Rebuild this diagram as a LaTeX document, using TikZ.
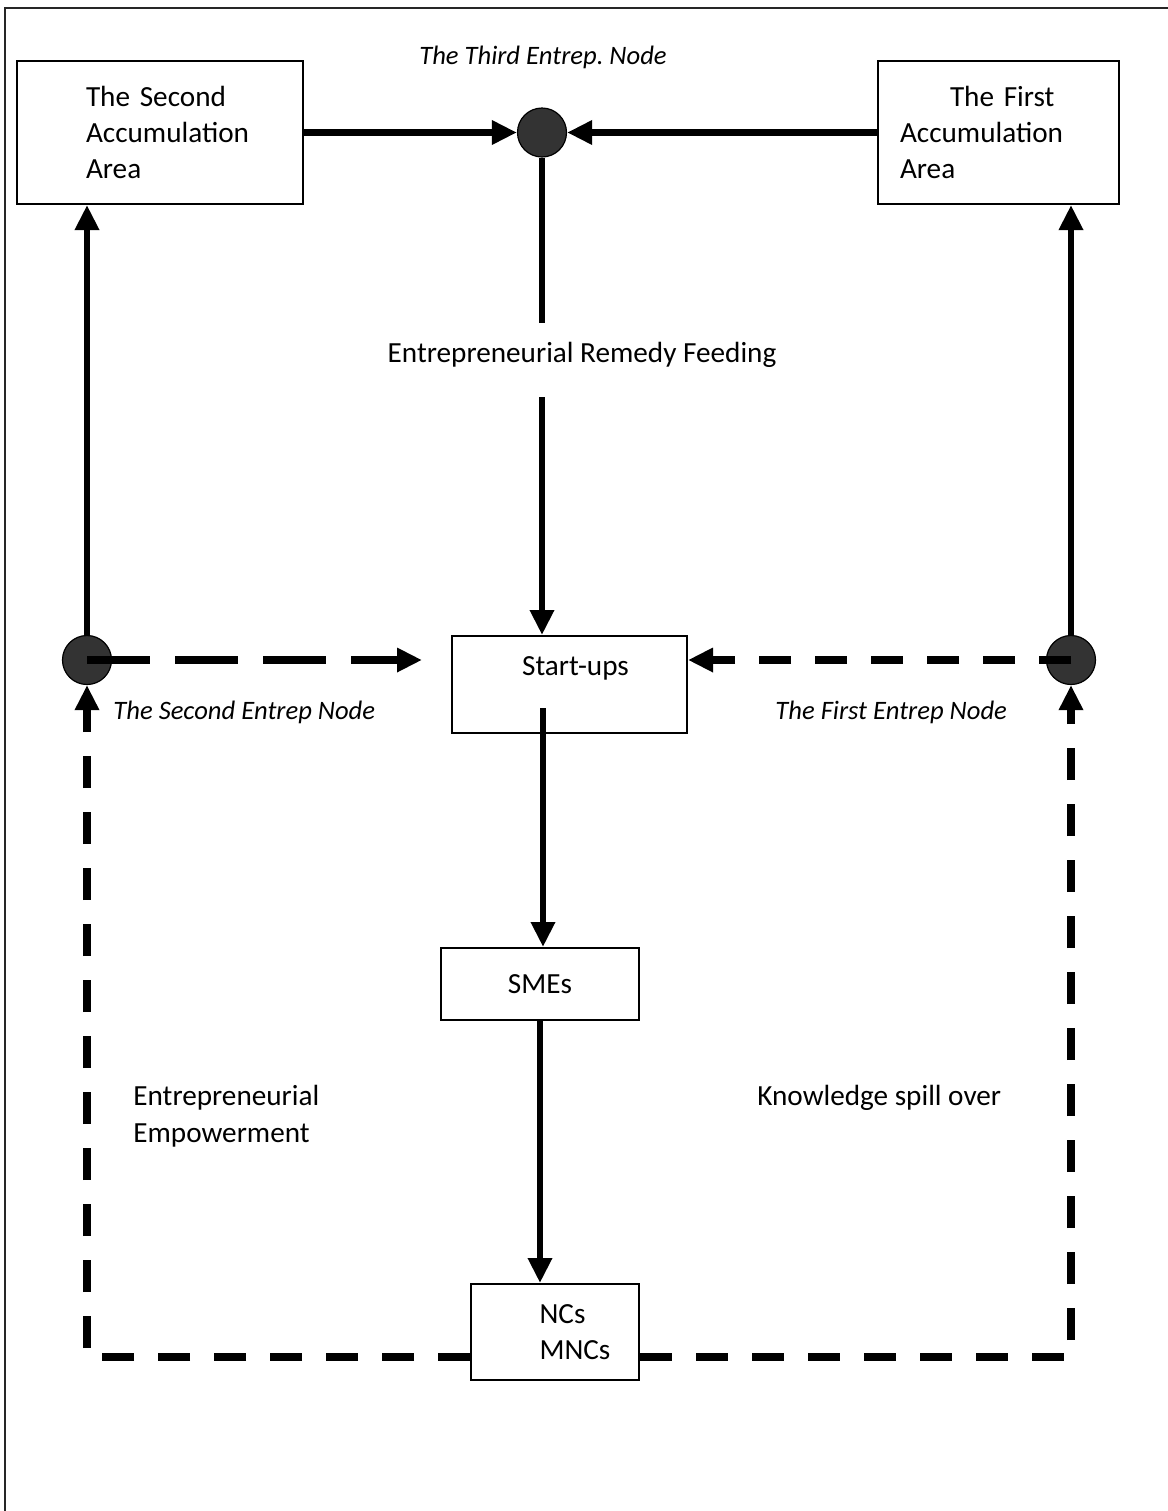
\documentclass[tikz,border=0pt]{standalone}
\usepackage{fontspec}
\setmainfont{Carlito}
\usetikzlibrary{arrows.meta}
\definecolor{dotgray}{HTML}{333333}
\def\txtsize{\fontsize{14.6}{18.2}\selectfont}
\def\tagsize{\fontsize{13.3}{16}\selectfont}
\frenchspacing
\tikzset{
	box/.style={draw, line width=1pt, inner sep=0pt, align=center},
	dot/.style={circle, draw, line width=0.6pt, fill=dotgray, minimum size=24.5pt, inner sep=0pt},
	txt/.style={inner sep=0pt, font=\txtsize},
	tag/.style={inner sep=0pt, font=\tagsize\itshape},
	flowline/.style={line width=3.3pt},
	flow/.style={line width=3.3pt, -{Triangle[length=12.5pt,width=11.5pt]}},
	longdash/.style={line width=3.6pt, dash pattern=on 31.5pt off 12.5pt},
	shortdash/.style={line width=3.6pt, dash pattern=on 16pt off 12pt}
}
\begin{document}
\begin{tikzpicture}[x=0.5pt, y=-0.5pt, font=\txtsize]
			%%%%% START %%%%%
			
			\useasboundingbox (0,0) rectangle (1168,1511);
			\draw[line width=1pt, black!85] (5,1511) -- (5,8) -- (1168,8);
			
			\node[box, minimum width=143pt, minimum height=71.5pt, text width=74pt, inner xsep=34.5pt, align=left] (accsecond) at (160,132.5) {The Second\\Accumulation\\Area};
			\node[box, minimum width=120.5pt, minimum height=71.5pt, text width=98.5pt, inner xsep=11pt, align=left] (accfirst) at (998.5,132.5) {\hspace*{25pt}The First\\Accumulation\\Area};
			
			\node[dot] (entthird) at (542,132.5) {};
			\node[tag] (thirdtag) at (543,57) {The Third Entrep. Node};
			
			\coordinate (feedtop) at (542,323);
			\coordinate (feedbot) at (542,397);
			\node[txt] (feedtag) at (582,355) {Entrepreneurial Remedy Feeding};
			
			\node[box, minimum width=117.5pt, minimum height=48.5pt] (startups) at (569.5,684.5) {\hspace*{6pt}Start-ups\\\mbox{}};
			\node[box, minimum width=99pt, minimum height=36pt] (smes) at (540,984) {SMEs};
			\node[box, minimum width=84pt, minimum height=48pt, align=left] (ncs) at (555,1332) {\hspace*{20pt}NCs\\\hspace*{20pt}MNCs};
			
			\node[dot] (entsecond) at (87,660) {};
			\node[dot] (entfirst) at (1071,660) {};
			\node[tag, anchor=west] (secondtag) at (113,712) {The Second Entrep Node};
			\node[tag, anchor=west] (firsttag) at (775,712) {The First Entrep Node};
			
			\node[txt, anchor=west, align=left] (empower) at (133,1116) {Entrepreneurial\\Empowerment};
			\node[txt, anchor=west] (spill) at (757,1098) {Knowledge spill over};
			
			\coordinate (upsleft) at (422,660);
			\coordinate (startout) at (543,708);
			\coordinate (loop) at (0,1357);
			
			% solid flows
			\draw[flow] (accsecond) -- (entthird);
			\draw[flow] (accfirst) -- (entthird);
			\draw[flowline] (entthird) -- (feedtop);
			\draw[flow] (feedbot) -- (feedbot |- startups.north);
			\draw[flow] (startout) -- (startout |- smes.north);
			\draw[flow] (smes.south) -- (smes.south |- ncs.north);
			\draw[flow] (entsecond) -- (entsecond |- accsecond.south);
			\draw[flow] (entfirst) -- (entfirst |- accfirst.south);
			
			% dashed flows
			\draw[flow, longdash] (entsecond.center) -- (upsleft);
			\draw[flow, shortdash] (entfirst.center) -- (entfirst.center -| startups.east);
			\draw[flow, shortdash] (ncs.west |- loop) -| (entsecond);
			\draw[flow, shortdash] (ncs.east |- loop) -| (entfirst);
			
			%%%%% END %%%%%
\end{tikzpicture}
\end{document}
